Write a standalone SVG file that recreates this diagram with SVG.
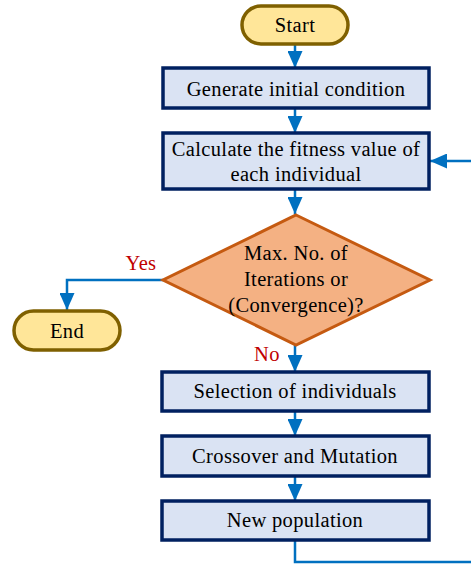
<svg xmlns="http://www.w3.org/2000/svg" width="471" height="564" viewBox="0 0 471 564">
<style>
.box{fill:#dae3f3;stroke:#002060;stroke-width:3.5}
.pill{fill:#ffe699;stroke:#7f6000;stroke-width:3.5}
.dia{fill:#f4b183;stroke:#c55a11;stroke-width:3}
.t{font-family:"Liberation Serif","Times New Roman",serif;font-size:20.5px;letter-spacing:0.35px;fill:#000;text-anchor:middle}
.lbl{font-family:"Liberation Serif","Times New Roman",serif;font-size:20.5px;letter-spacing:0.35px;fill:#c00000;text-anchor:middle}
.c{fill:none;stroke:#0070c0;stroke-width:2.5}
</style>
<defs>
<marker id="ah" markerUnits="userSpaceOnUse" markerWidth="17" markerHeight="15" refX="17" refY="7.5" orient="auto" viewBox="0 0 17 15">
<path d="M0,0 L17,7.5 L0,15 z" fill="#0070c0"/>
</marker>
</defs>
<g id="connectors">
<path class="c" d="M295,44 V68" marker-end="url(#ah)"/>
<path class="c" d="M295,108 V133" marker-end="url(#ah)"/>
<path class="c" d="M295,189 V214" marker-end="url(#ah)"/>
<path class="c" d="M163,280 H67 V310" marker-end="url(#ah)"/>
<path class="c" d="M295,345 V372" marker-end="url(#ah)"/>
<path class="c" d="M295,411 V436" marker-end="url(#ah)"/>
<path class="c" d="M295,476 V501" marker-end="url(#ah)"/>
<path class="c" d="M295,540 V562 H475"/>
<path class="c" d="M475,161 H430" marker-end="url(#ah)"/>
<text class="lbl" x="141" y="270">Yes</text>
<text class="lbl" x="267" y="361">No</text>
</g>
<g id="start">
<rect class="pill" x="242" y="6" width="106" height="38" rx="19"/>
<text class="t" x="295" y="32">Start</text>
</g>
<g id="generate">
<rect class="box" x="163" y="68" width="266" height="40"/>
<text class="t" x="296" y="95.5">Generate initial condition</text>
</g>
<g id="calculate">
<rect class="box" x="163" y="133" width="266" height="56"/>
<text class="t" x="296" y="156">Calculate the fitness value of</text>
<text class="t" x="296" y="181">each individual</text>
</g>
<g id="decision">
<polygon class="dia" points="296,215 430,280 296,345 163,280"/>
<text class="t" x="296" y="260">Max. No. of</text>
<text class="t" x="296" y="286">Iterations or</text>
<text class="t" x="296" y="312">(Convergence)?</text>
</g>
<g id="end">
<rect class="pill" x="14" y="311" width="106" height="39" rx="19.5"/>
<text class="t" x="67" y="337.5">End</text>
</g>
<g id="selection">
<rect class="box" x="162" y="372" width="267" height="39"/>
<text class="t" x="295" y="398">Selection of individuals</text>
</g>
<g id="crossover">
<rect class="box" x="162" y="436" width="267" height="40"/>
<text class="t" x="295" y="463">Crossover and Mutation</text>
</g>
<g id="newpop">
<rect class="box" x="162" y="501" width="267" height="39"/>
<text class="t" x="295" y="527">New population</text>
</g>
</svg>
